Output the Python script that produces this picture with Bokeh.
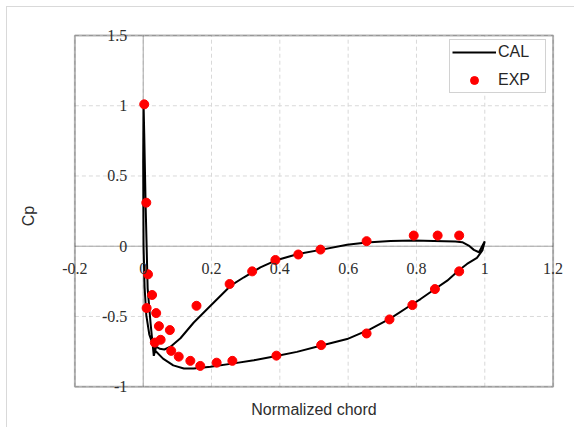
import math
from bokeh.plotting import figure
from bokeh.models import (Range1d, Legend, LegendItem, Label,
                          LabelSet, ColumnDataSource, BoxAnnotation)
from bokeh.embed import file_html
from bokeh.resources import INLINE

# ---- data ----
cal_x = [1.000, 0.983, 0.968, 0.953, 0.934, 0.914, 0.851, 0.792, 0.724, 0.654, 0.597,
         0.519, 0.453, 0.387, 0.343, 0.319, 0.295, 0.256, 0.197, 0.148, 0.109, 0.080,
         0.062, 0.048, 0.038, 0.031, 0.022, 0.013, 0.007, 0.003, 0.001,
         0.000, 0.001, 0.004, 0.009, 0.018, 0.034, 0.058, 0.088, 0.119, 0.148, 0.197,
         0.265, 0.324, 0.390, 0.450, 0.519, 0.597, 0.665, 0.724, 0.783, 0.812, 0.851,
         0.890, 0.925, 0.948, 0.977, 0.993, 1.000]
cal_y = [0.035, -0.043, -0.026, 0.005, 0.029, 0.034, 0.037, 0.040, 0.038, 0.026, 0.010,
         -0.026, -0.055, -0.102, -0.150, -0.186, -0.221, -0.281, -0.424, -0.543, -0.655, -0.715,
         -0.735, -0.730, -0.715, -0.780, -0.560, -0.300, 0.300, 0.800, 1.020,
         0.600, 0.000, -0.290, -0.490, -0.630, -0.740, -0.800, -0.848, -0.870, -0.870, -0.858,
         -0.834, -0.812, -0.781, -0.752, -0.709, -0.661, -0.590, -0.514, -0.420, -0.376, -0.310,
         -0.245, -0.169, -0.126, -0.083, -0.030, 0.035]

exp_x = [0.003, 0.009, 0.014, 0.010, 0.026, 0.038, 0.046, 0.078, 0.051, 0.034, 0.082,
         0.104, 0.138, 0.167, 0.215, 0.261, 0.156, 0.253, 0.319, 0.387, 0.454, 0.519,
         0.654, 0.792, 0.862, 0.925, 0.925, 0.854, 0.788, 0.721, 0.654, 0.521, 0.390]
exp_y = [1.01, 0.31, -0.20, -0.44, -0.347, -0.476, -0.569, -0.597, -0.666, -0.686, -0.745,
         -0.786, -0.816, -0.852, -0.829, -0.816, -0.424, -0.269, -0.179, -0.098, -0.059, -0.024,
         0.036, 0.076, 0.076, 0.076, -0.179, -0.305, -0.419, -0.521, -0.621, -0.704, -0.779]

x_ticks = [-0.2, 0, 0.2, 0.4, 0.6, 0.8, 1.0, 1.2]
y_ticks = [-1, -0.5, 0, 0.5, 1, 1.5]
x_tick_labels = ["-0.2", "0", "0.2", "0.4", "0.6", "0.8", "1", "1.2"]
y_tick_labels = ["-1", "-0.5", "0", "0.5", "1", "1.5"]
x_title = "Normalized chord"
y_title = "Cp"

FONT = "Liberation Sans"
TXT = "#2e2e2e"

xmin, xmax = min(x_ticks), max(x_ticks)
ymin, ymax = min(y_ticks), max(y_ticks)

# The frame covers nearly the whole canvas; the plotted box is drawn inside it,
# so texts that sit on or outside the box edges are not clipped.
PX_X = 341.6   # px per x unit
PX_Y = 140.5   # px per y unit
p = figure(width=574, height=427,
           x_range=Range1d(xmin - 64.4 / PX_X, xmax + 19.4 / PX_X),
           y_range=Range1d(ymin - 33.8 / PX_Y, ymax + 23.0 / PX_Y),
           x_axis_type=None, y_axis_type=None, output_backend="svg", toolbar_location=None,
           min_border_left=10, min_border_right=2, min_border_top=12, min_border_bottom=7)
p.outline_line_color = None
p.border_fill_alpha = 0
p.background_fill_alpha = 0
p.styles = {
    "background-color": "white",
    "background-image": "linear-gradient(#d9d9d9, #d9d9d9), linear-gradient(#d9d9d9, #d9d9d9)",
    "background-size": "1px 100%, 100% 1px",
    "background-position": "6px 6px, 6px 6px",
    "background-repeat": "no-repeat",
}

# dashed grid, limited to the plot box
p.segment(x0=x_ticks, x1=x_ticks, y0=[ymin] * len(x_ticks), y1=[ymax] * len(x_ticks),
          line_color="#d9d9d9", line_width=1, line_dash="4 3")
p.segment(x0=[xmin] * len(y_ticks), x1=[xmax] * len(y_ticks), y0=y_ticks, y1=y_ticks,
          line_color="#d9d9d9", line_width=1, line_dash="4 3")
# axis lines through zero
p.segment(x0=[0, xmin], x1=[0, xmax], y0=[ymin, 0], y1=[ymax, 0],
          line_color="#a6a6a6", line_width=1)

r_cal = p.line(cal_x, cal_y, line_color="black", line_width=2)
r_exp = p.scatter(exp_x, exp_y, size=9, fill_color="red", line_color="red")

# plot-area box
p.add_layout(BoxAnnotation(left=xmin, right=xmax, bottom=ymin, top=ymax,
                           fill_alpha=0, line_color="black", line_width=2))

# tick labels along the zero lines
xsrc = ColumnDataSource(dict(x=x_ticks, y=[0] * len(x_ticks), t=x_tick_labels))
ysrc = ColumnDataSource(dict(x=[0] * len(y_ticks), y=y_ticks, t=y_tick_labels))
p.add_layout(LabelSet(x="x", y="y", text="t", source=xsrc, text_align="center",
                      text_baseline="top", y_offset=-17, text_font=FONT,
                      text_font_size="16px", text_color=TXT))
p.add_layout(LabelSet(x="x", y="y", text="t", source=ysrc, text_align="right",
                      text_baseline="middle", x_offset=-16, text_font=FONT,
                      text_font_size="16px", text_color=TXT))

# axis titles
p.add_layout(Label(x=(xmin + xmax) / 2, y=ymin, y_offset=-23, text=x_title,
                   text_align="center", text_baseline="middle", text_font=FONT,
                   text_font_size="16px", text_color=TXT))
p.add_layout(Label(x=xmin, y=(ymin + ymax) / 2, x_offset=-46, y_offset=-5, text=y_title,
                   angle=math.pi / 2, text_align="center", text_baseline="middle",
                   text_font=FONT, text_font_size="16px", text_color=TXT))

legend = Legend(items=[LegendItem(label="CAL", renderers=[r_cal]),
                       LegendItem(label="EXP", renderers=[r_exp])],
                location=(439, 327), margin=0, padding=2, spacing=8,
                label_height=20, glyph_height=20, glyph_width=44, label_standoff=2,
                label_width=45, label_text_font=FONT, label_text_font_size="16px",
                label_text_color="#262626", border_line_color="#a6a6a6",
                border_line_width=1, background_fill_color="white", background_fill_alpha=1)
p.add_layout(legend)

open("out.html", "w").write(file_html(p, INLINE))
